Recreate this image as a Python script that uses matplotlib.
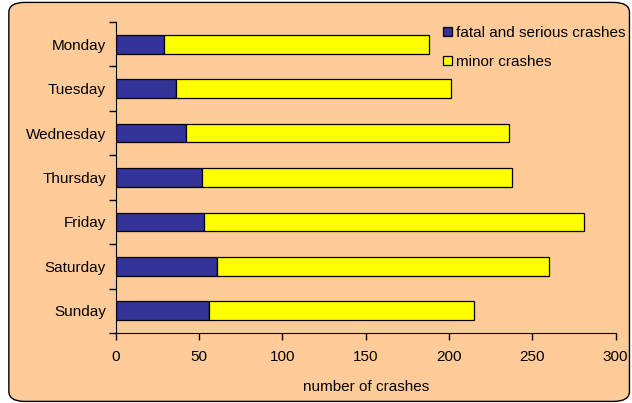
import matplotlib
matplotlib.use("Agg")
import matplotlib.pyplot as plt
from matplotlib.patches import FancyBboxPatch
import numpy as np

days = ["Monday", "Tuesday", "Wednesday", "Thursday", "Friday", "Saturday", "Sunday"]
fatal_serious = [29, 36, 42, 52, 53, 61, 56]
minor = [159, 165, 194, 186, 228, 199, 159]
x_ticks = [0, 50, 100, 150, 200, 250, 300]

plt.rcParams['font.family'] = ['Liberation Sans', 'DejaVu Sans']
bg = "#FFCC99"
fs = 11

fig = plt.figure(figsize=(6.32, 4.03), dpi=100)
fig.patch.set_facecolor("white")
# rounded chart border
fig.patches.append(FancyBboxPatch((0.014, 0.004), 0.982, 0.99,
                                  boxstyle="round,pad=0,rounding_size=0.025",
                                  transform=fig.transFigure, facecolor=bg,
                                  edgecolor="black", linewidth=1.0, zorder=-5))

ax = fig.add_axes([115.7/632, 1 - 333/403, 500/632, 311/403])
ax.set_zorder(2)
ax.patch.set_alpha(0)

y = np.arange(len(days))
h = 0.42
ax.barh(y, fatal_serious, height=h, color="#333399", edgecolor="black",
        linewidth=0.9, label="fatal and serious crashes")
ax.barh(y, minor, left=fatal_serious, height=h, color="#FFFF00",
        edgecolor="black", linewidth=0.9, label="minor crashes")

ax.set_ylim(len(days) - 0.5, -0.5)
ax.set_xlim(0, 300)
ax.set_yticks(y)
ax.set_yticklabels(days, fontsize=fs)
ax.set_yticks(np.arange(-0.5, len(days), 1), minor=True)
ax.tick_params(axis='y', which='major', length=0, pad=7)
ax.tick_params(axis='y', which='minor', length=5, width=1)
ax.set_xticks(x_ticks)
ax.set_xticklabels([str(t) for t in x_ticks], fontsize=fs)
ax.tick_params(axis='x', length=5, width=1, pad=7)
for s in ["top", "right"]:
    ax.spines[s].set_visible(False)
ax.set_xlabel("number of crashes", fontsize=fs, labelpad=12)

leg = ax.legend(loc="upper left", bbox_to_anchor=(429/632, 1 - 12/403),
                bbox_transform=fig.transFigure, frameon=False, fontsize=fs,
                handlelength=0.6, handleheight=0.6, handletextpad=0.3,
                labelspacing=1.0)

fig.savefig("out.png", dpi=100, facecolor=fig.get_facecolor())
